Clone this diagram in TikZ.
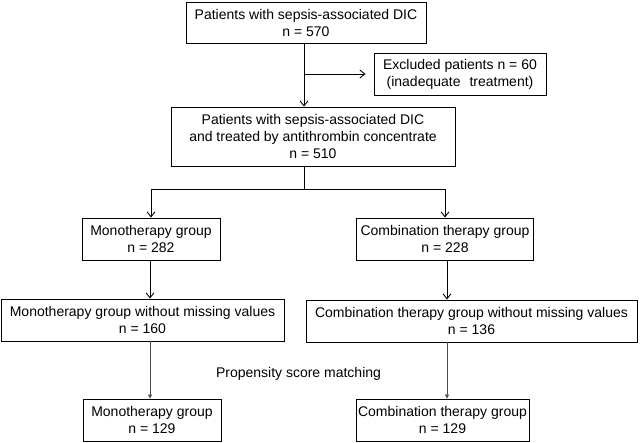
\documentclass[tikz,border=0pt]{standalone}
\usepackage{fontspec}
\setmainfont{Liberation Sans}
\usetikzlibrary{arrows.meta}
\begin{document}
\begin{tikzpicture}[x=1pt,y=-1pt]
    \tikzstyle{box}=[draw, line width=0.9pt, rectangle, align=center, inner sep=0pt, font=\fontsize{14}{17}\selectfont, minimum height=42pt]
    \tikzstyle{flow}=[line width=0.9pt, -{Straight Barb[length=5pt,width=8pt]}]
    \tikzstyle{match}=[black!70, line width=0.6pt, -{Triangle[length=4pt,width=4pt]}]
    \useasboundingbox (0,0) rectangle (640,442);
    % columns of the connectors
    \coordinate (trunk) at (304,0);
    \coordinate (monocol) at (150,0);
    \coordinate (combcol) at (447,0);
    \coordinate (excljoin) at (304,74);
    \coordinate (split) at (304,189);
    \node[box, minimum width=240pt, minimum height=41pt] (all) at (306,22.5) {Patients with sepsis-associated DIC\\n = 570};
    \node[box, minimum width=172pt] (excl) at (460,74) {Excluded patients n = 60\\(inadequate\hspace{9pt}treatment)};
    \node[box, minimum width=284pt, minimum height=59pt] (treated) at (313,136.5) {Patients with sepsis-associated DIC\\and treated by antithrombin concentrate\\n = 510};
    \node[box, minimum width=138pt] (mono) at (151,239) {Monotherapy group\\n = 282};
    \node[box, minimum width=177pt] (comb) at (445,239) {Combination therapy group\\n = 228};
    \node[box, minimum width=283pt] (mononm) at (142.5,320) {Monotherapy group without missing values\\n = 160};
    \node[box, minimum width=331pt] (combnm) at (471.5,321) {Combination therapy group without missing values\\n = 136};
    \node[box, minimum width=138pt] (monops) at (152,420) {Monotherapy group\\n = 129};
    \node[box, minimum width=173pt] (combps) at (442.5,420) {Combination therapy group\\n = 129};
    \node[font=\fontsize{14}{17}\selectfont] (psm) at (298.5,374) {Propensity score matching};
    \draw[flow] (all.south -| trunk) -- (treated.north -| trunk);
    \draw[flow, shorten >=8pt] (excljoin) -- (excl);
    \draw[line width=0.9pt] (treated.south -| trunk) -- (split);
    \draw[flow] (split) -| (mono);
    \draw[flow] (split) -| (comb);
    \draw[flow] (mono.south -| monocol) -- (mononm.north -| monocol);
    \draw[flow] (comb.south -| combcol) -- (combnm.north -| combcol);
    \draw[match] (mononm.south -| monocol) -- (monops.north -| monocol);
    \draw[match] (combnm.south -| combcol) -- (combps.north -| combcol);
\end{tikzpicture}
\end{document}
